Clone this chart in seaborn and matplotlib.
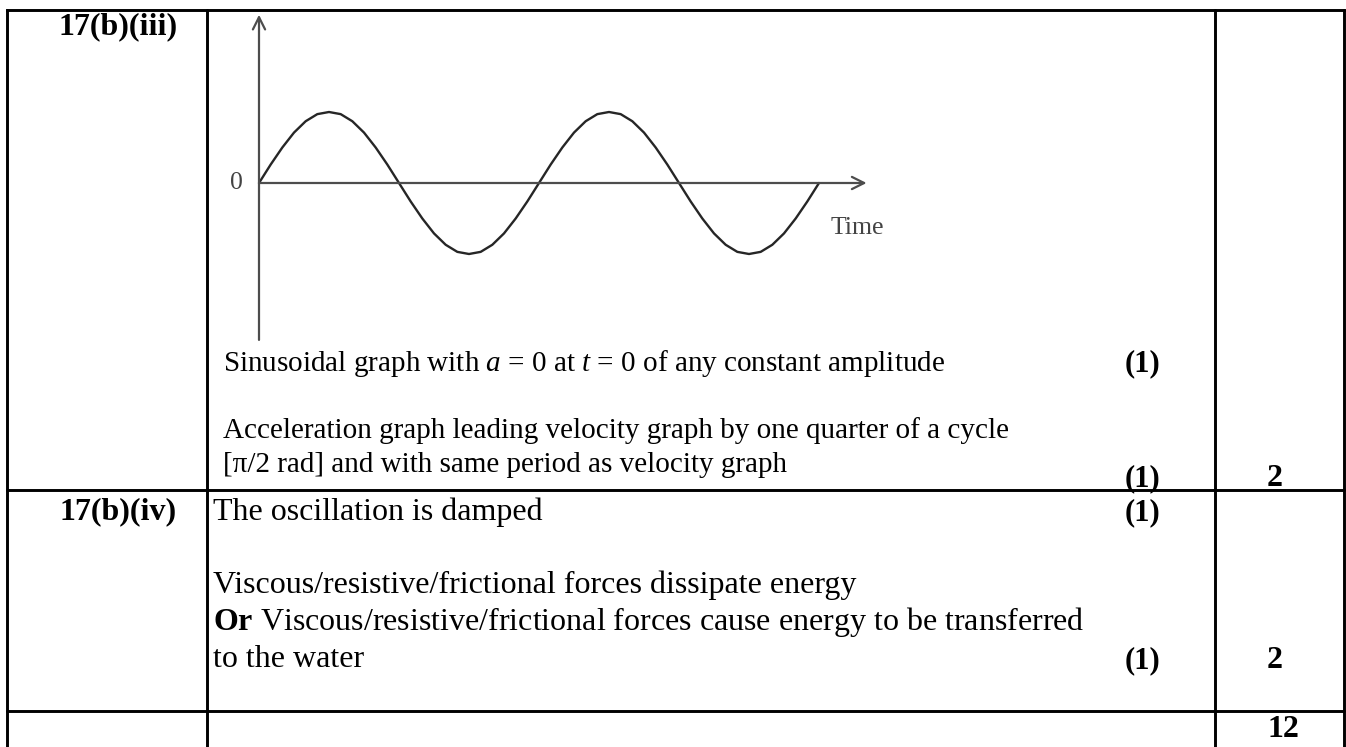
import matplotlib
matplotlib.use("Agg")
import matplotlib.pyplot as plt
import seaborn as sns

# acceleration-time sketch (time in cycles, a in amplitudes)
time = [0.0, 0.0417, 0.0833, 0.125, 0.1667, 0.2083, 0.25, 0.2917, 0.3333,
        0.375, 0.4167, 0.4583, 0.5, 0.5417, 0.5833, 0.625, 0.6667, 0.7083,
        0.75, 0.7917, 0.8333, 0.875, 0.9167, 0.9583, 1.0,
        1.0417, 1.0833, 1.125, 1.1667, 1.2083, 1.25, 1.2917, 1.3333,
        1.375, 1.4167, 1.4583, 1.5, 1.5417, 1.5833, 1.625, 1.6667, 1.7083,
        1.75, 1.7917, 1.8333, 1.875, 1.9167, 1.9583, 2.0]
accel = [0.0, 0.26, 0.5, 0.71, 0.87, 0.97, 1.0, 0.97, 0.87,
         0.71, 0.5, 0.26, 0.0, -0.26, -0.5, -0.71, -0.87, -0.97,
         -1.0, -0.97, -0.87, -0.71, -0.5, -0.26, 0.0,
         0.26, 0.5, 0.71, 0.87, 0.97, 1.0, 0.97, 0.87,
         0.71, 0.5, 0.26, 0.0, -0.26, -0.5, -0.71, -0.87, -0.97,
         -1.0, -0.97, -0.87, -0.71, -0.5, -0.26, 0.0]

question_ids = ["17(b)(iii)", "17(b)(iv)"]
answers_iii = [
    r"Sinusoidal graph with $\mathit{a}$ = 0 at $\mathit{t}$ = 0 of any constant amplitude",
    "Acceleration graph leading velocity graph by one quarter of a cycle",
    "[\u03c0/2 rad] and with same period as velocity graph",
]
answers_iv = [
    "The oscillation is damped",
    "Viscous/resistive/frictional forces dissipate energy",
    r"$\mathbf{Or}$ Viscous/resistive/frictional forces cause energy to be transferred",
    "to the water",
]
marks = ["(1)", "(1)", "(1)", "(1)"]
totals = ["2", "2", "12"]

sns.set_style("white")
plt.rcParams["font.family"] = ["Liberation Serif", "DejaVu Serif"]
plt.rcParams["text.color"] = "black"
plt.rcParams["mathtext.fontset"] = "custom"
plt.rcParams["mathtext.rm"] = "Liberation Serif"
plt.rcParams["mathtext.it"] = "Liberation Serif:italic"
plt.rcParams["mathtext.bf"] = "Liberation Serif:bold"

W, H = 1346, 747
fig = plt.figure(figsize=(W / 100, H / 100), dpi=100)

# table frame in pixel units
tab = fig.add_axes([0, 0, 1, 1])
tab.set_xlim(0, W)
tab.set_ylim(H, 0)
tab.axis("off")

lw = 2.1
tab.plot([7, 1344], [9.5, 9.5], color="black", lw=lw, solid_capstyle="projecting")
for x in [7, 207, 1215, 1344]:
    tab.plot([x, x], [9.5, H], color="black", lw=lw)
for y in [490, 711]:
    tab.plot([7, 1344], [y, y], color="black", lw=lw)

tab.text(178, 27, question_ids[0], ha="right", va="center", fontsize=23, fontweight="bold")
tab.text(177, 512, question_ids[1], ha="right", va="center", fontsize=23, fontweight="bold")

for txt, y in zip(answers_iii, [371, 438, 472]):
    tab.text(223, y, txt, fontsize=21, va="baseline")
for txt, y in zip(answers_iv, [520, 593, 630, 667]):
    tab.text(213, y, txt, fontsize=23, va="baseline")

for txt, y in zip(marks, [371, 486, 520, 668]):
    tab.text(1125, y, txt, fontsize=22, fontweight="bold", va="baseline")
for txt, y in zip(totals, [486, 668, 737]):
    tab.text(1267, y, txt, fontsize=23, fontweight="bold", va="baseline")

# the sketched graph
g = fig.add_axes([220 / W, 1 - 345 / H, 680 / W, 335 / H])
g.set_xlim((220 - 259) / 280, (900 - 259) / 280)
g.set_ylim((183 - 345) / 71, (183 - 10) / 71)
g.axis("off")

sns.lineplot(x=time, y=accel, ax=g, color="#262626", linewidth=1.7)

axis_col = "#4d4d4d"
arrow = dict(arrowstyle="->", color=axis_col, lw=1.6, mutation_scale=22,
             shrinkA=0, shrinkB=0)
g.annotate("", xy=(0, 2.37), xytext=(0, -2.21), arrowprops=arrow)
g.annotate("", xy=(2.17, 0), xytext=(0, 0), arrowprops=arrow)
g.text(-0.08, 0, "0", ha="center", va="center", fontsize=18.5, color="#444444")
g.text(2.04, -0.72, "Time", ha="left", va="baseline", fontsize=18.5, color="#444444")

fig.savefig("out.png", dpi=100)
